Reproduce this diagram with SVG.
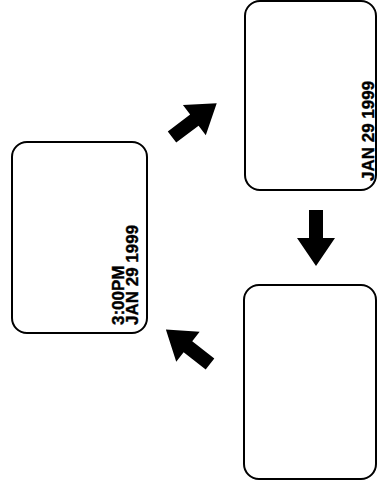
<svg xmlns="http://www.w3.org/2000/svg" width="377" height="486" viewBox="0 0 377 486">
<style>
.card{fill:#fff;stroke:#000;stroke-width:2}
.lbl{font-family:"Liberation Sans",Arial,sans-serif;font-weight:bold;font-size:17px;fill:#000;stroke:#000;stroke-width:0.4}
.arr{fill:#000}
</style>
<defs>
<polygon id="arrow" points="0,-7 28,-7 28,-19 56,0 28,19 28,7 0,7"/>
</defs>
<rect width="377" height="486" fill="#fff"/>
<g id="node-left">
<rect class="card" x="12" y="142" width="135" height="191" rx="15"/>
<text class="lbl" transform="translate(124,325) rotate(-90)">3:00PM</text>
<text class="lbl" transform="translate(138,325) rotate(-90)">JAN 29 1999</text>
</g>
<g id="node-top-right">
<rect class="card" x="245" y="1" width="131" height="189" rx="15"/>
<text class="lbl" transform="translate(374,181) rotate(-90)">JAN 29 1999</text>
</g>
<g id="node-bottom-right">
<rect class="card" x="244" y="285" width="132" height="194" rx="15"/>
</g>
<g id="connectors">
<use href="#arrow" class="arr" transform="translate(172,137) rotate(-37)"/>
<use href="#arrow" class="arr" transform="translate(316,210) rotate(90)"/>
<use href="#arrow" class="arr" transform="translate(210,364) rotate(-142)"/>
</g>
</svg>
